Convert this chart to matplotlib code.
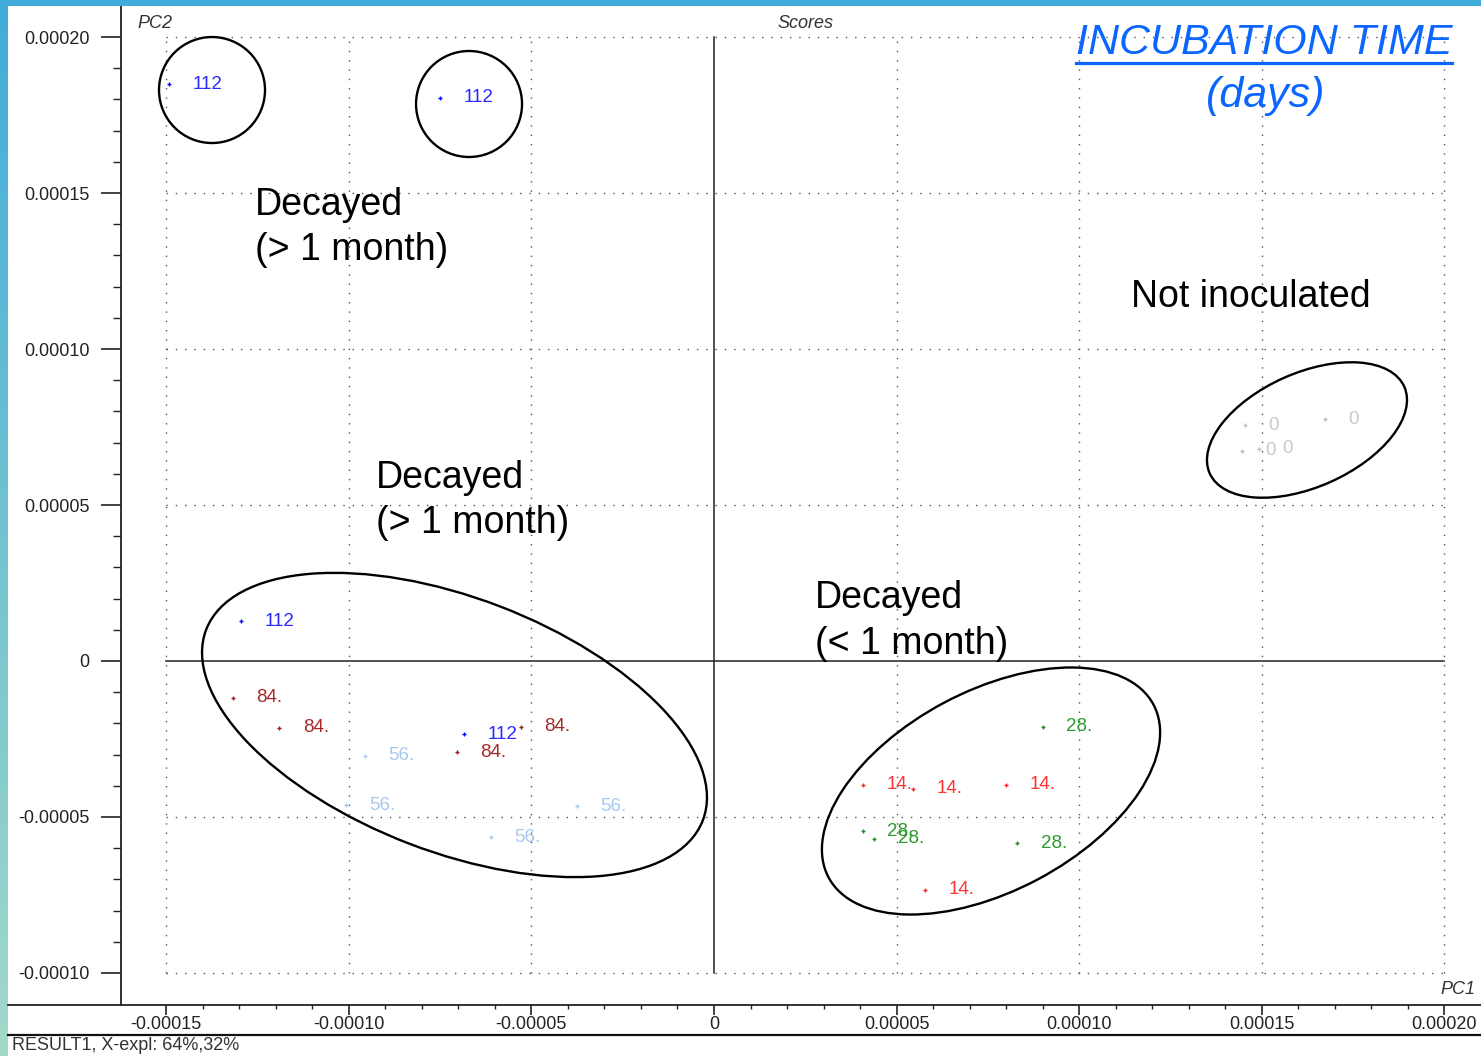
import matplotlib
matplotlib.use("Agg")
import matplotlib.pyplot as plt
import numpy as np
from matplotlib.patches import Ellipse, Rectangle
from matplotlib.lines import Line2D
from matplotlib.transforms import ScaledTranslation
from matplotlib.ticker import FixedLocator, FuncFormatter

plt.rcParams['font.family'] = ['Liberation Sans', 'DejaVu Sans']

# PCA scores (PC1, PC2) grouped by incubation time
days_112_pc1 = [-1.492e-4, -7.50e-5, -1.295e-4, -6.85e-5]
days_112_pc2 = [1.849e-4, 1.805e-4, 1.28e-5, -2.34e-5]
days_84_pc1 = [-1.318e-4, -1.191e-4, -7.04e-5, -5.29e-5]
days_84_pc2 = [-1.18e-5, -2.14e-5, -2.93e-5, -2.11e-5]
days_56_pc1 = [-9.56e-5, -1.009e-4, -6.11e-5, -3.75e-5]
days_56_pc2 = [-3.04e-5, -4.62e-5, -5.65e-5, -4.65e-5]
days_28_pc1 = [9.00e-5, 4.09e-5, 4.38e-5, 8.31e-5]
days_28_pc2 = [-2.11e-5, -5.46e-5, -5.70e-5, -5.84e-5]
days_14_pc1 = [4.07e-5, 5.46e-5, 7.99e-5, 5.79e-5]
days_14_pc2 = [-3.97e-5, -4.09e-5, -3.97e-5, -7.34e-5]
days_0_pc1 = [1.454e-4, 1.673e-4, 1.445e-4, 1.492e-4]
days_0_pc2 = [7.56e-5, 7.75e-5, 6.74e-5, 6.80e-5]

groups = [
    (days_112_pc1, days_112_pc2, "112", "#0000ff", "#2a2aff"),
    (days_84_pc1, days_84_pc2, "84.", "#a01818", "#a82828"),
    (days_56_pc1, days_56_pc2, "56.", "#a8c8f0", "#a8c8f0"),
    (days_28_pc1, days_28_pc2, "28.", "#1e8c1e", "#2e9a2e"),
    (days_14_pc1, days_14_pc2, "14.", "#ff2020", "#ff3333"),
    (days_0_pc1, days_0_pc2, "0", "#c0c0c0", "#c8c8c8"),
]

x_major = [-0.00015, -0.00010, -0.00005, 0.0, 0.00005, 0.00010, 0.00015, 0.00020]
y_major = [-0.00010, -0.00005, 0.0, 0.00005, 0.00010, 0.00015, 0.00020]

W, H = 1481, 1056
fig = plt.figure(figsize=(W / 100, H / 100), dpi=100, facecolor="white")
ax = fig.add_axes([121 / W, 51 / H, 1 - 121 / W, 955 / H + 44 / H])
ax.set_xlim(-1.6238e-4, 2.1002e-4)
ax.set_ylim(-1.1026e-4, 2.0994e-4)

for s in ["top", "right", "bottom"]:
    ax.spines[s].set_visible(False)
ax.spines["left"].set_linewidth(1.3)
ax.spines["left"].set_color("#222222")


def fmt(v, pos):
    return "0" if abs(v) < 1e-12 else f"{v:.5f}"


ax.xaxis.set_major_locator(FixedLocator(x_major))
ax.yaxis.set_major_locator(FixedLocator(y_major))
ax.xaxis.set_minor_locator(FixedLocator(np.arange(-15, 21) * 1e-5))
ax.yaxis.set_minor_locator(FixedLocator(np.arange(-10, 21) * 1e-5))
ax.xaxis.set_major_formatter(FuncFormatter(fmt))
ax.yaxis.set_major_formatter(FuncFormatter(fmt))
ax.tick_params(axis="x", which="major", direction="out", length=7, width=1.2,
               pad=1, labelsize=13, colors="#222222")
ax.tick_params(axis="x", which="minor", direction="out", length=3, width=1.0, colors="#222222")
ax.tick_params(axis="y", which="major", direction="out", length=14.5, width=1.2,
               pad=8, labelsize=13, colors="#222222")
ax.tick_params(axis="y", which="minor", direction="out", length=6, width=1.0, colors="#222222")

# dotted grid inside the tick range, solid zero lines
gx0, gx1 = x_major[0], x_major[-1]
gy0, gy1 = y_major[0], y_major[-1]
for xv in x_major:
    if xv != 0:
        ax.plot([xv, xv], [gy0, gy1], color="#555555", lw=1.0, ls=(0, (1, 5.7)), zorder=1)
for yv in y_major:
    if yv != 0:
        ax.plot([gx0, gx1], [yv, yv], color="#555555", lw=1.0, ls=(0, (1, 5.7)), zorder=1)
ax.plot([0, 0], [gy0, gy1], color="#222222", lw=1.1, zorder=1)
ax.plot([gx0, gx1], [0, 0], color="#222222", lw=1.1, zorder=1)

# sample points with labels
for px, py, lab, mc, tc in groups:
    ax.plot(px, py, ls="none", marker="+", ms=3, mew=1.0, color=mc, zorder=3)
    for xv, yv in zip(px, py):
        ax.annotate(lab, (xv, yv), xytext=(17, 0), textcoords="offset points",
                    va="center", ha="left", fontsize=13.5, color=tc, zorder=4)

# group outlines: centre in data units, size in pixels, angle in degrees
outlines = [
    (-1.3746e-4, 1.8301e-4, 106, 106, 0),
    (-6.708e-5, 1.7853e-4, 106, 106, 0),
    (-7.106e-5, -2.051e-5, 532, 254, -21),
    (7.585e-5, -4.167e-5, 368, 200, 28),
    (1.6237e-4, 7.404e-5, 213, 114, 24),
]
for cx, cy, w, h, ang in outlines:
    tr = fig.dpi_scale_trans + ScaledTranslation(cx, cy, ax.transData)
    ax.add_patch(Ellipse((0, 0), w / 100, h / 100, angle=ang, transform=tr,
                         fill=False, ec="black", lw=1.7, zorder=5))

# region annotations
region_kw = dict(fontsize=27, va="center", ha="left", linespacing=1.33)
ax.text(-1.2568e-4, 1.3894e-4, "Decayed\n(> 1 month)", **region_kw)
ax.text(-9.255e-5, 5.144e-5, "Decayed\n(> 1 month)", **region_kw)
ax.text(2.766e-5, 1.282e-5, "Decayed\n(< 1 month)", **region_kw)
ax.text(1.1418e-4, 1.1667e-4, "Not inoculated", **region_kw)

# axis captions
fig.text(137 / W, 1 - 23 / H, "PC2", fontsize=13, style="italic", color="#333333", va="center")
fig.text(805 / W, 1 - 23 / H, "Scores", fontsize=13, style="italic", color="#333333",
         va="center", ha="center")
fig.text(1475 / W, 1 - 990 / H, "PC1", fontsize=13, style="italic", color="#333333",
         va="center", ha="right")
fig.text(12 / W, 1 - 1046 / H, "RESULT1, X-expl: 64%,32%", fontsize=13, color="#333333",
         va="center", ha="left")

# legend title
blue = "#0a66ff"
fig.text(1264 / W, 1 - 43 / H, "INCUBATION TIME", fontsize=31, style="italic",
         color=blue, va="center", ha="center")
fig.text(1266 / W, 1 - 96 / H, "(days)", fontsize=31, style="italic",
         color=blue, va="center", ha="center")
fig.add_artist(Line2D([1076 / W, 1452 / W], [1 - 63 / H, 1 - 63 / H], color=blue, lw=2.3))

# bottom axis frame lines
fig.add_artist(Line2D([8 / W, 1], [1 - 1005 / H, 1 - 1005 / H], color="#222222", lw=1.3))
fig.add_artist(Line2D([8 / W, 1], [1 - 1035 / H, 1 - 1035 / H], color="#111111", lw=1.6))

# window border strips
fig.add_artist(Rectangle((0, 1 - 6 / H), 1, 6 / H, transform=fig.transFigure,
                         color="#41acd9", lw=0))
strip = fig.add_axes([0, 0, 7.5 / W, 1])
strip.axis("off")
top_c = np.array([65, 172, 217]) / 255
bot_c = np.array([162, 217, 201]) / 255
t = np.linspace(0, 1, 256)[:, None]
grad = (top_c[None, :] * (1 - t) + bot_c[None, :] * t)[:, None, :]
strip.imshow(grad, aspect="auto", extent=[0, 1, 0, 1])

fig.savefig("out.png", dpi=100, facecolor="white")
